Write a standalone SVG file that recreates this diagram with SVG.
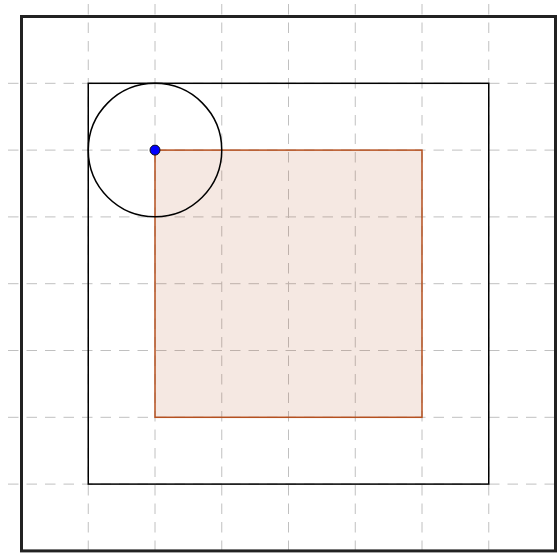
<svg xmlns="http://www.w3.org/2000/svg" width="559" height="553" viewBox="0 0 559 553">
<style>
.grid{stroke:#c0c0c0;stroke-width:1;stroke-dasharray:10.5 8;fill:none}
.frame{fill:none;stroke:#000;stroke-width:1.5}
</style>
<rect width="559" height="553" fill="#fff"/>
<g id="grid" class="grid">
<line x1="88.25" y1="4" x2="88.25" y2="553"/>
<line x1="155" y1="4" x2="155" y2="553"/>
<line x1="221.75" y1="4" x2="221.75" y2="553"/>
<line x1="288.5" y1="4" x2="288.5" y2="553"/>
<line x1="355.25" y1="4" x2="355.25" y2="553"/>
<line x1="422" y1="4" x2="422" y2="553"/>
<line x1="488.75" y1="4" x2="488.75" y2="553"/>
<line x1="8" y1="83.3" x2="559" y2="83.3"/>
<line x1="8" y1="150.1" x2="559" y2="150.1"/>
<line x1="8" y1="216.9" x2="559" y2="216.9"/>
<line x1="8" y1="283.7" x2="559" y2="283.7"/>
<line x1="8" y1="350.5" x2="559" y2="350.5"/>
<line x1="8" y1="417.3" x2="559" y2="417.3"/>
<line x1="8" y1="484.1" x2="559" y2="484.1"/>
</g>
<g id="square">
<rect x="155" y="150.1" width="267" height="267.2" fill="#b5501f" fill-opacity="0.13" stroke="#b5501f" stroke-width="1.5"/>
</g>
<g id="innerRect">
<rect class="frame" x="88.25" y="83.3" width="400.5" height="400.8"/>
</g>
<g id="circle">
<circle class="frame" cx="155" cy="150.1" r="66.75"/>
</g>
<g id="outerFrame">
<rect x="21.5" y="16.5" width="534" height="534.4" fill="none" stroke="#222" stroke-width="3"/>
</g>
<g id="point">
<circle cx="155" cy="150.1" r="5" fill="#0000ff" stroke="#111" stroke-width="1"/>
</g>
</svg>
